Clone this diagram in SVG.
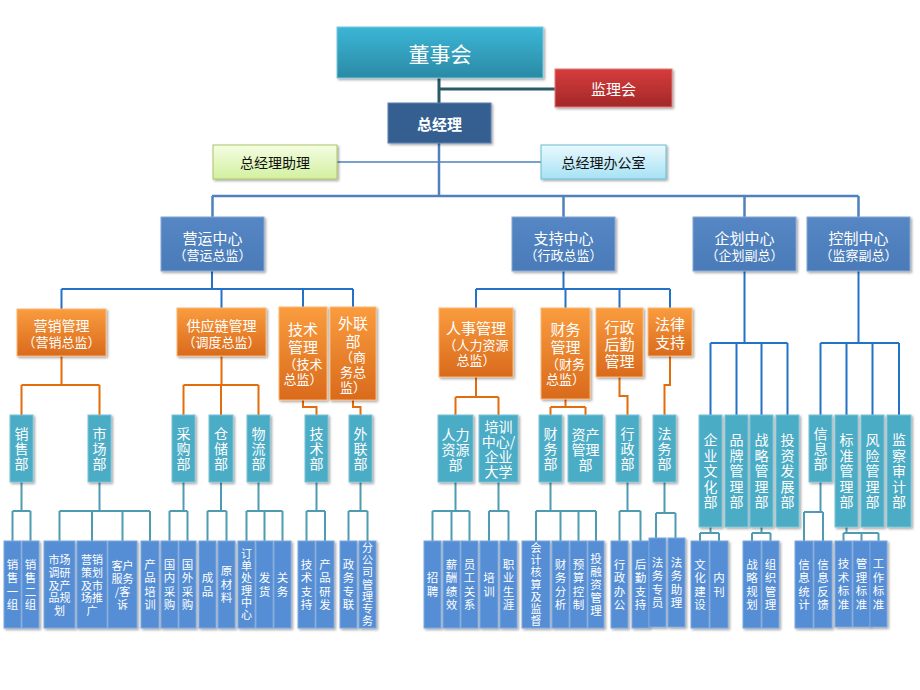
<svg xmlns="http://www.w3.org/2000/svg" width="920" height="690" viewBox="0 0 920 690">
<defs>
<linearGradient id="gTeal" x1="0" y1="0" x2="0" y2="1"><stop offset="0" stop-color="#3cb6d6"/><stop offset="1" stop-color="#2a8aa5"/></linearGradient>
<linearGradient id="gRed" x1="0" y1="0" x2="0" y2="1"><stop offset="0" stop-color="#d63c3c"/><stop offset="1" stop-color="#a32828"/></linearGradient>
<linearGradient id="gGreen" x1="0" y1="0" x2="0" y2="1"><stop offset="0" stop-color="#f5fde2"/><stop offset="1" stop-color="#d2f0a0"/></linearGradient>
<linearGradient id="gLB" x1="0" y1="0" x2="0" y2="1"><stop offset="0" stop-color="#eaf9fe"/><stop offset="1" stop-color="#a6e2f4"/></linearGradient>
<linearGradient id="gBlue" x1="0" y1="0" x2="0" y2="1"><stop offset="0" stop-color="#5587c4"/><stop offset="1" stop-color="#4a7bb8"/></linearGradient>
<linearGradient id="gOr" x1="0" y1="0" x2="0" y2="1"><stop offset="0" stop-color="#fa9c3e"/><stop offset="1" stop-color="#d96a1c"/></linearGradient>
<filter id="sh" x="-20%" y="-20%" width="150%" height="150%"><feDropShadow dx="1.5" dy="1.5" stdDeviation="1" flood-color="#000" flood-opacity="0.35"/></filter>
</defs>
<style>
text,tspan{font-family:"Noto Sans CJK SC","Noto Sans",sans-serif;dominant-baseline:central;text-anchor:middle}
text{fill:#fff}
.v{writing-mode:vertical-rl}
.sh{filter:url(#sh)}
.l2{fill:url(#gBlue);stroke:#86a8d2;stroke-width:1}
.or{fill:url(#gOr);stroke:#fbb877;stroke-width:1}
.te{fill:#4bacc6;stroke:#7cc4d7;stroke-width:1}
.bl{fill:#558ed5;stroke:#7ca7de;stroke-width:1}
.t2a{font-size:15px}
.t2b{font-size:13px}
.toa{font-size:15px}
.tob{font-size:13px}
.tt{font-size:14px}
.tt3{font-size:14px;letter-spacing:1px}
.tt5{font-size:14px;letter-spacing:1.5px}
.t5{font-size:11.5px;letter-spacing:2px}
.t5b{font-size:11.5px;letter-spacing:1.5px}
.t5c{font-size:11px;letter-spacing:1.3px}
.t5s{font-size:11px}
.c0{fill:none;stroke:#2b5a66;stroke-width:3}
.c1{fill:none;stroke:#4f81bd;stroke-width:2.5}
.c1t{fill:none;stroke:#4f81bd;stroke-width:1.5}
.c2{fill:none;stroke:#2472c8;stroke-width:2}
.c3{fill:none;stroke:#e46c0a;stroke-width:2}
.c4{fill:none;stroke:#4f9cb2;stroke-width:2}
</style>
<rect width="920" height="690" fill="#fff"/>
<g id="connectors">
<path class="c0" d="M439,78 V103 M439,89 H555"/>
<path class="c1t" d="M337,162 H541"/>
<path class="c1" d="M439,143 V196 M212,196 H858.5 M212.5,196 V217 M563.5,196 V217 M744.5,196 V217 M858.5,196 V217"/>
<path class="c2" d="M212,271 V289 M61.5,289 H353 M61.5,289 V309 M221.5,289 V308 M303,289 V307 M353,289 V307"/>
<path class="c2" d="M563.5,271 V289 M476,289 H670 M476,289 V308 M565.5,289 V308 M619.5,289 V308 M670,289 V308"/>
<path class="c2" d="M744.5,271 V343 M710.5,343 H787.5 M710.5,343 V415 M736.5,343 V415 M761.5,343 V415 M787.5,343 V415"/>
<path class="c2" d="M858.5,271 V343 M820.5,343 H899 M820.5,343 V415 M846.5,343 V415 M872.5,343 V415 M899,343 V415"/>
<path class="c3" d="M61.5,356 V385 M21.5,385 H99.5 M21.5,385 V415 M99.5,385 V415"/>
<path class="c3" d="M221.5,356 V385 M183.5,385 H258.5 M183.5,385 V415 M221,385 V415 M258.5,385 V415"/>
<path class="c3" d="M303,400 V407 H316.5 V415 M353,400 V407 H360.5 V415"/>
<path class="c3" d="M476,377 V397 M455.5,397 H498.5 M455.5,397 V415 M498.5,397 V415"/>
<path class="c3" d="M565.5,399 V407 M550.5,407 H585.5 M550.5,407 V415 M585.5,407 V415"/>
<path class="c3" d="M619.5,377 V396 H627.5 V415 M670,356 V385 H664.5 V415"/>
<path class="c4" d="M21.5,482 V511 M12.5,511 H30.5 M12.5,511 V541 M30.5,511 V541"/>
<path class="c4" d="M99.5,482 V511 M59.5,511 H150 M59.5,511 V541 M92,511 V541 M122.5,511 V541 M150,511 V541"/>
<path class="c4" d="M183.5,482 V511 M169.5,511 H187.5 M169.5,511 V541 M187.5,511 V541"/>
<path class="c4" d="M221,482 V511 M207.5,511 H226.5 M207.5,511 V541 M226.5,511 V541"/>
<path class="c4" d="M258.5,482 V511 M246.5,511 H282.5 M246.5,511 V541 M264.5,511 V541 M282.5,511 V541"/>
<path class="c4" d="M316.5,482 V511 M306.5,511 H325 M306.5,511 V541 M325,511 V541"/>
<path class="c4" d="M360.5,482 V511 M348.5,511 H367.5 M348.5,511 V541 M367.5,511 V541"/>
<path class="c4" d="M455.5,482 V511 M432.5,511 H469.5 M432.5,511 V541 M451.5,511 V541 M469.5,511 V541"/>
<path class="c4" d="M498.5,482 V511 M489,511 H508.5 M489,511 V541 M508.5,511 V541"/>
<path class="c4" d="M550.5,482 V511 M536,511 H596 M536,511 V541 M560.5,511 V541 M578.5,511 V541 M596,511 V541"/>
<path class="c4" d="M627.5,482 V511 M619.5,511 H640.5 M619.5,511 V541 M640.5,511 V541"/>
<path class="c4" d="M664.5,482 V513 M656,513 H675.5 M656,513 V538 M675.5,513 V538"/>
<path class="c4" d="M710.5,527 V533 M700,533 H719 M700,533 V541 M719,533 V541"/>
<path class="c4" d="M761.5,527 V533 M752,533 H770.5 M752,533 V541 M770.5,533 V541"/>
<path class="c4" d="M820.5,482 V512 M804,512 H823 M804,512 V541 M823,512 V541"/>
<path class="c4" d="M846.5,527 V533 M843.5,533 H878.5 M843.5,533 V541 M861.5,533 V541 M878.5,533 V541"/>
</g>

<g id="n-dongshihui"><rect class="sh" x="337" y="27" width="206" height="51" fill="url(#gTeal)" stroke="#7fc8dc"/><text x="440" y="53" style="font-size:21px">董事会</text></g>
<g id="n-jianlihui"><rect class="sh" x="555" y="69" width="117" height="38" fill="url(#gRed)" stroke="#e27a7a"/><text x="613.5" y="88" style="font-size:15px">监理会</text></g>
<g id="n-zongjingli"><rect class="sh" x="388" y="103" width="103" height="40" fill="#365f91" stroke="#5a80ae"/><text x="439.5" y="123.5" style="font-size:15px;font-weight:bold">总经理</text></g>
<g id="n-zhuli"><rect class="sh" x="213" y="145" width="124" height="34" fill="url(#gGreen)" stroke="#a9c46a"/><text x="275" y="162" style="font-size:14px;fill:#111">总经理助理</text></g>
<g id="n-bangongshi"><rect class="sh" x="541" y="145" width="125" height="34" fill="url(#gLB)" stroke="#6bbbd2"/><text x="603.5" y="162" style="font-size:14px;fill:#111">总经理办公室</text></g>

<g id="n-yingyun"><rect class="l2 sh" x="161" y="217" width="103" height="54"/><text class="t2a" x="212.5" y="237">营运中心</text><text class="t2b" x="212.5" y="254">（营运总监）</text></g>
<g id="n-zhichi"><rect class="l2 sh" x="512" y="217" width="103" height="54"/><text class="t2a" x="563.5" y="237">支持中心</text><text class="t2b" x="563.5" y="254">（行政总监）</text></g>
<g id="n-qihua"><rect class="l2 sh" x="693" y="217" width="103" height="54"/><text class="t2a" x="744.5" y="237">企划中心</text><text class="t2b" x="744.5" y="254">（企划副总）</text></g>
<g id="n-kongzhi"><rect class="l2 sh" x="807" y="217" width="103" height="54"/><text class="t2a" x="858.5" y="237">控制中心</text><text class="t2b" x="858.5" y="254">（监察副总）</text></g>

<g id="n-yingxiao"><rect class="or sh" x="17" y="309" width="89" height="47"/><text x="61.5" y="325" style="font-size:14px">营销管理</text><text class="tob" x="61.5" y="341">（营销总监）</text></g>
<g id="n-gongyinglian"><rect class="or sh" x="177" y="308" width="89" height="48"/><text x="221.5" y="325" style="font-size:14px">供应链管理</text><text class="tob" x="221.5" y="341">（调度总监）</text></g>
<g id="n-jishuguanli"><rect class="or sh" x="279" y="307" width="48" height="93"/><text class="toa" x="303" y="328">技术</text><text class="toa" x="303" y="346">管理</text><text class="tob" x="303" y="363">（技术</text><text class="tob" x="303" y="378">总监）</text></g>
<g id="n-wailian"><rect class="or sh" x="330" y="307" width="46" height="93"/><text class="toa" x="353" y="322">外联</text><text class="toa" x="353" y="340">部</text><text class="tob" x="353" y="356">（商</text><text class="tob" x="353" y="371">务总</text><text class="tob" x="353" y="386">监）</text></g>
<g id="n-renshi"><rect class="or sh" x="439" y="308" width="74" height="69"/><text class="toa" x="476" y="327">人事管理</text><text class="tob" x="476" y="344">（人力资源</text><text class="tob" x="476" y="359">总监）</text></g>
<g id="n-caiwuguanli"><rect class="or sh" x="541" y="308" width="49" height="91"/><text class="toa" x="565.5" y="328">财务</text><text class="toa" x="565.5" y="346">管理</text><text class="tob" x="565.5" y="363">（财务</text><text class="tob" x="565.5" y="378">总监）</text></g>
<g id="n-xingzhenghouqin"><rect class="or sh" x="596" y="308" width="47" height="69"/><text class="toa" x="619.5" y="326">行政</text><text class="toa" x="619.5" y="343">后勤</text><text class="toa" x="619.5" y="360">管理</text></g>
<g id="n-falv"><rect class="or sh" x="648" y="308" width="44" height="48"/><text class="toa" x="670" y="323">法律</text><text class="toa" x="670" y="341">支持</text></g>

<g id="n-xiaoshoubu"><rect class="te sh" x="10" y="415" width="23" height="67"/><text class="tt3 v" x="21.5" y="449">销售部</text></g>
<g id="n-shichangbu"><rect class="te sh" x="88" y="415" width="23" height="67"/><text class="tt3 v" x="99.5" y="449">市场部</text></g>
<g id="n-caigoubu"><rect class="te sh" x="172" y="415" width="23" height="67"/><text class="tt3 v" x="183.5" y="449">采购部</text></g>
<g id="n-cangchubu"><rect class="te sh" x="209" y="415" width="24" height="67"/><text class="tt3 v" x="221" y="449">仓储部</text></g>
<g id="n-wuliubu"><rect class="te sh" x="247" y="415" width="23" height="67"/><text class="tt3 v" x="258.5" y="449">物流部</text></g>
<g id="n-jishubu"><rect class="te sh" x="305" y="415" width="23" height="67"/><text class="tt3 v" x="316.5" y="449">技术部</text></g>
<g id="n-wailianbu"><rect class="te sh" x="349" y="415" width="23" height="67"/><text class="tt3 v" x="360.5" y="449">外联部</text></g>
<g id="n-renliziyuanbu"><rect class="te sh" x="438" y="415" width="35" height="67"/><text class="tt" x="455.5" y="433.5"><tspan x="455.5">人力</tspan><tspan x="455.5" dy="15">资源</tspan><tspan x="455.5" dy="15">部</tspan></text></g>
<g id="n-peixunzhongxin"><rect class="te sh" x="479" y="415" width="39" height="67"/><text class="tt" x="498.5" y="425.5"><tspan x="498.5">培训</tspan><tspan x="498.5" dy="15.3">中心/</tspan><tspan x="498.5" dy="15.3">企业</tspan><tspan x="498.5" dy="15.3">大学</tspan></text></g>
<g id="n-caiwubu"><rect class="te sh" x="539" y="415" width="23" height="67"/><text class="tt3 v" x="550.5" y="449">财务部</text></g>
<g id="n-zichanbu"><rect class="te sh" x="568" y="415" width="35" height="67"/><text class="tt" x="585.5" y="433.5"><tspan x="585.5">资产</tspan><tspan x="585.5" dy="15">管理</tspan><tspan x="585.5" dy="15">部</tspan></text></g>
<g id="n-xingzhengbu"><rect class="te sh" x="616" y="415" width="23" height="67"/><text class="tt3 v" x="627.5" y="449">行政部</text></g>
<g id="n-fawubu"><rect class="te sh" x="653" y="415" width="23" height="67"/><text class="tt3 v" x="664.5" y="449">法务部</text></g>
<g id="n-qiyewenhuabu"><rect class="te sh" x="699" y="415" width="23" height="112"/><text class="tt5 v" x="710.5" y="471.5">企业文化部</text></g>
<g id="n-pinpaibu"><rect class="te sh" x="725" y="415" width="23" height="112"/><text class="tt5 v" x="736.5" y="471.5">品牌管理部</text></g>
<g id="n-zhanluebu"><rect class="te sh" x="750" y="415" width="23" height="112"/><text class="tt5 v" x="761.5" y="471.5">战略管理部</text></g>
<g id="n-touzibu"><rect class="te sh" x="776" y="415" width="23" height="112"/><text class="tt5 v" x="787.5" y="471.5">投资发展部</text></g>
<g id="n-xinxibu"><rect class="te sh" x="809" y="415" width="23" height="67"/><text class="tt3 v" x="820.5" y="449">信息部</text></g>
<g id="n-biaozhunbu"><rect class="te sh" x="835" y="415" width="23" height="112"/><text class="tt5 v" x="846.5" y="471.5">标准管理部</text></g>
<g id="n-fengxianbu"><rect class="te sh" x="861" y="415" width="23" height="112"/><text class="tt5 v" x="872.5" y="471.5">风险管理部</text></g>
<g id="n-jianchabu"><rect class="te sh" x="887" y="415" width="24" height="112"/><text class="tt5 v" x="899" y="471.5">监察审计部</text></g>

<g id="n-xs1"><rect class="bl sh" x="4" y="541" width="17" height="87"/><text class="t5 v" x="12.5" y="585.5">销售一组</text></g>
<g id="n-xs2"><rect class="bl sh" x="22" y="541" width="17" height="87"/><text class="t5 v" x="30.5" y="585.5">销售二组</text></g>
<g id="n-sc1"><rect class="bl sh" x="44" y="541" width="31" height="87"/><text class="t5s" x="59.5" y="559"><tspan x="59.5">市场</tspan><tspan x="59.5" dy="12.8">调研</tspan><tspan x="59.5" dy="12.8">及产</tspan><tspan x="59.5" dy="12.8">品规</tspan><tspan x="59.5" dy="12.8">划</tspan></text></g>
<g id="n-sc2"><rect class="bl sh" x="77" y="541" width="30" height="87"/><text class="t5s" x="92" y="559"><tspan x="92">营销</tspan><tspan x="92" dy="12.8">策划</tspan><tspan x="92" dy="12.8">及市</tspan><tspan x="92" dy="12.8">场推</tspan><tspan x="92" dy="12.8">广</tspan></text></g>
<g id="n-sc3"><rect class="bl sh" x="108" y="541" width="29" height="87"/><text class="t5s" x="122.5" y="565"><tspan x="122.5">客户</tspan><tspan x="122.5" dy="13">服务</tspan><tspan x="122.5" dy="13">/客</tspan><tspan x="122.5" dy="13">诉</tspan></text></g>
<g id="n-sc4"><rect class="bl sh" x="141" y="541" width="18" height="87"/><text class="t5 v" x="150" y="585.5">产品培训</text></g>
<g id="n-cg1"><rect class="bl sh" x="161" y="541" width="17" height="87"/><text class="t5 v" x="169.5" y="585.5">国内采购</text></g>
<g id="n-cg2"><rect class="bl sh" x="179" y="541" width="17" height="87"/><text class="t5 v" x="187.5" y="585.5">国外采购</text></g>
<g id="n-cc1"><rect class="bl sh" x="199" y="541" width="17" height="87"/><text class="t5 v" x="207.5" y="585.5">成品</text></g>
<g id="n-cc2"><rect class="bl sh" x="218" y="541" width="17" height="87"/><text class="t5 v" x="226.5" y="585.5">原材料</text></g>
<g id="n-wl1"><rect class="bl sh" x="238" y="541" width="17" height="87"/><text class="t5c v" x="246.5" y="585">订单处理中心</text></g>
<g id="n-wl2"><rect class="bl sh" x="256" y="541" width="17" height="87"/><text class="t5 v" x="264.5" y="585.5">发货</text></g>
<g id="n-wl3"><rect class="bl sh" x="274" y="541" width="17" height="87"/><text class="t5 v" x="282.5" y="585.5">关务</text></g>
<g id="n-js1"><rect class="bl sh" x="298" y="541" width="17" height="87"/><text class="t5 v" x="306.5" y="585.5">技术支持</text></g>
<g id="n-js2"><rect class="bl sh" x="316" y="541" width="18" height="87"/><text class="t5 v" x="325" y="585.5">产品研发</text></g>
<g id="n-wlb1"><rect class="bl sh" x="340" y="541" width="17" height="87"/><text class="t5 v" x="348.5" y="585.5">政务专联</text></g>
<g id="n-wlb2"><rect class="bl sh" x="359" y="541" width="17" height="87"/><text class="t5c v" x="367.5" y="585">分公司管理专务</text></g>
<g id="n-rl1"><rect class="bl sh" x="424" y="541" width="17" height="87"/><text class="t5 v" x="432.5" y="585.5">招聘</text></g>
<g id="n-rl2"><rect class="bl sh" x="443" y="541" width="17" height="87"/><text class="t5 v" x="451.5" y="585.5">薪酬绩效</text></g>
<g id="n-rl3"><rect class="bl sh" x="461" y="541" width="17" height="87"/><text class="t5 v" x="469.5" y="585.5">员工关系</text></g>
<g id="n-px1"><rect class="bl sh" x="480" y="541" width="18" height="87"/><text class="t5 v" x="489" y="585.5">培训</text></g>
<g id="n-px2"><rect class="bl sh" x="500" y="541" width="17" height="87"/><text class="t5 v" x="508.5" y="585.5">职业生涯</text></g>
<g id="n-cw1"><rect class="bl sh" x="522" y="541" width="28" height="87"/><text class="t5c v" x="536" y="585">会计核算及监督</text></g>
<g id="n-cw2"><rect class="bl sh" x="552" y="541" width="17" height="87"/><text class="t5 v" x="560.5" y="585.5">财务分析</text></g>
<g id="n-cw3"><rect class="bl sh" x="570" y="541" width="17" height="87"/><text class="t5 v" x="578.5" y="585.5">预算控制</text></g>
<g id="n-cw4"><rect class="bl sh" x="588" y="541" width="16" height="87"/><text class="t5b v" x="596" y="585.25">投融资管理</text></g>
<g id="n-xz1"><rect class="bl sh" x="611" y="541" width="17" height="87"/><text class="t5 v" x="619.5" y="585.5">行政办公</text></g>
<g id="n-xz2"><rect class="bl sh" x="632" y="541" width="17" height="87"/><text class="t5 v" x="640.5" y="585.5">后勤支持</text></g>
<g id="n-fw1"><rect class="bl sh" x="649" y="538" width="17" height="89"/><text class="t5 v" x="657.5" y="583.5">法务专员</text></g>
<g id="n-fw2"><rect class="bl sh" x="668" y="538" width="17" height="89"/><text class="t5 v" x="676.5" y="583.5">法务助理</text></g>
<g id="n-wh1"><rect class="bl sh" x="691" y="541" width="18" height="87"/><text class="t5 v" x="700" y="585.5">文化建设</text></g>
<g id="n-wh2"><rect class="bl sh" x="710" y="541" width="18" height="87"/><text class="t5 v" x="719" y="585.5">内刊</text></g>
<g id="n-zl1"><rect class="bl sh" x="743" y="541" width="18" height="87"/><text class="t5 v" x="752" y="585.5">战略规划</text></g>
<g id="n-zl2"><rect class="bl sh" x="762" y="541" width="17" height="87"/><text class="t5 v" x="770.5" y="585.5">组织管理</text></g>
<g id="n-xx1"><rect class="bl sh" x="795" y="541" width="18" height="87"/><text class="t5 v" x="804" y="585.5">信息统计</text></g>
<g id="n-xx2"><rect class="bl sh" x="814" y="541" width="18" height="87"/><text class="t5 v" x="823" y="585.5">信息反馈</text></g>
<g id="n-bz1"><rect class="bl sh" x="835" y="541" width="17" height="86"/><text class="t5 v" x="843.5" y="585">技术标准</text></g>
<g id="n-bz2"><rect class="bl sh" x="853" y="541" width="17" height="86"/><text class="t5 v" x="861.5" y="585">管理标准</text></g>
<g id="n-bz3"><rect class="bl sh" x="870" y="541" width="17" height="86"/><text class="t5 v" x="878.5" y="585">工作标准</text></g>
</svg>
